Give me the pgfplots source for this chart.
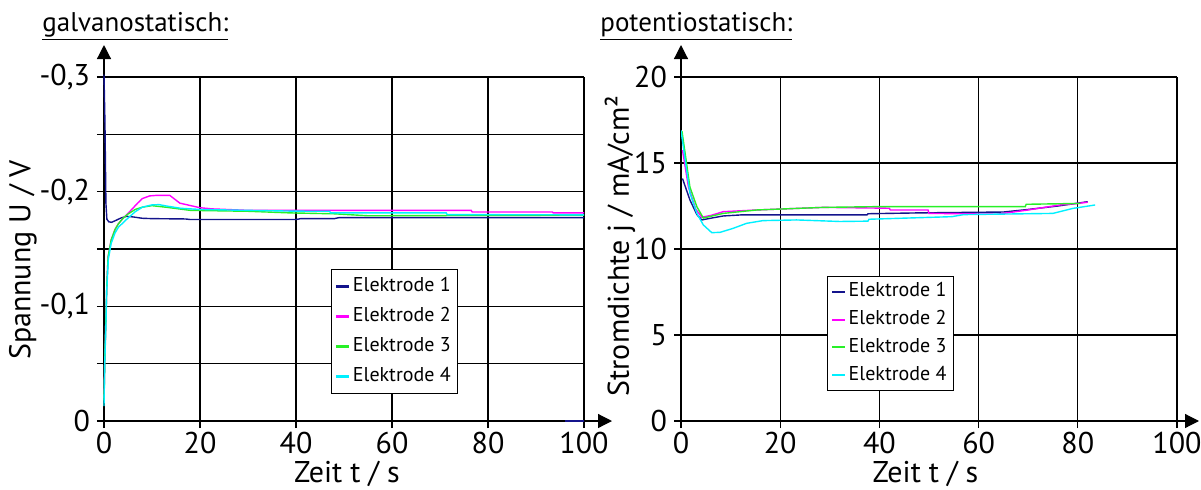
\documentclass[border=0pt]{standalone}
\usepackage{fontspec}
\setmainfont{PT Sans}
\usepackage{pgfplots}
\pgfplotsset{compat=1.18}
\usetikzlibrary{arrows.meta}
\definecolor{elOne}{RGB}{20,20,140}
\definecolor{elTwo}{RGB}{255,0,255}
\definecolor{elThree}{RGB}{40,240,40}
\definecolor{elFour}{RGB}{0,240,255}
\pgfplotsset{
 mystyle/.style={
  scale only axis, height=172pt,
  axis lines=left,
  axis line style={line width=0.6pt},
  x axis line style={-{Triangle[length=7pt,width=7pt]}, shorten >=-14pt},
  grid=major, grid style={black, line width=0.6pt},
  tick style={black, line width=0.6pt},
  tick align=outside, major tick length=3.5pt,
  xmin=0, xmax=100, xtick={0,20,...,100},
  /pgf/number format/assume math mode=true,
  tick label style={font=\fontsize{15}{18}\selectfont},
  xticklabel style={yshift=1.5pt},
  label style={font=\fontsize{15}{18}\selectfont},
  legend style={font=\fontsize{10}{12}\selectfont, draw=black, fill=white, line width=0.5pt,
     inner xsep=1.8pt, inner ysep=4pt, row sep=6pt,
     nodes={inner ysep=0pt, inner xsep=1.5pt, text height=7pt, text depth=2pt}},
  legend cell align=left,
  legend image code/.code={\draw[#1, line width=1.1pt] (0pt,0pt) -- (6.3pt,0pt);},
  every axis plot/.append style={line width=0.7pt},
 }
}
\begin{document}
\begin{tikzpicture}
\useasboundingbox (0,0) rectangle (600.5pt,244.5pt);
\node[anchor=base west, inner sep=0, font=\fontsize{13.5}{16}\selectfont] at (21pt,229pt) {\underline{galvanostatisch:}};
\node[anchor=base west, inner sep=0, font=\fontsize{13.5}{16}\selectfont] at (300pt,229pt) {\underline{potentiostatisch:}};
\begin{axis}[mystyle,
  at={(52pt,34pt)}, anchor=south west, width=240pt,
  y dir=reverse, ymin=-0.3, ymax=0,
  ytick={-0.3,-0.25,-0.2,-0.15,-0.1,-0.05,0},
  yticklabels={{-0,3},{},{-0,2},{},{-0,1},{},{0}},
  y axis line style={{Triangle[length=7pt,width=7pt]}-, shorten <=-16pt},
  xlabel={Zeit t / s}, ylabel={Spannung U / V},
  xlabel style={at={(axis description cs:0.506,-0.155)}, anchor=center},
  ylabel style={at={(axis description cs:-0.169,0.468)}, anchor=center},
  legend style={at={(axis description cs:0.473,0.442)}, anchor=north west},
  clip=false,
]
\addplot[draw=elOne] coordinates {(0,-0.302) (0.2,-0.26) (0.3,-0.225) (0.4,-0.19) (0.6,-0.176) (1.0,-0.1737) (1.6,-0.1733) (2.5,-0.175) (3.5,-0.177) (4.7,-0.1785) (6,-0.178) (8,-0.1768) (10,-0.1765) (17,-0.1762) (18,-0.1757) (40,-0.1757) (41,-0.1765) (48,-0.1765) (49,-0.1774) (100,-0.1774)};
\addlegendentry{Elektrode 1}
\addplot[draw=elTwo] coordinates {(0,-0.02) (0.2,-0.06) (0.4,-0.09) (0.6,-0.12) (0.85,-0.143) (1.5,-0.158) (2.3,-0.167) (3,-0.172) (4,-0.177) (5,-0.181) (6,-0.1855) (7,-0.19) (8,-0.194) (9.5,-0.1963) (11,-0.1968) (13.7,-0.1968) (15.8,-0.19) (20,-0.186) (22.5,-0.185) (30,-0.1837) (76.5,-0.1837) (76.7,-0.1823) (93.4,-0.1823) (93.6,-0.1815) (100,-0.1815)};
\addlegendentry{Elektrode 2}
\addplot[draw=elThree] coordinates {(0,-0.018) (0.2,-0.06) (0.4,-0.09) (0.6,-0.12) (0.85,-0.143) (1.5,-0.158) (2.3,-0.167) (3,-0.172) (4,-0.177) (5,-0.1805) (6.5,-0.1845) (8,-0.1865) (10,-0.1878) (13,-0.1864) (18,-0.1837) (30,-0.1829) (38.7,-0.1815) (48,-0.1807) (55,-0.179) (100,-0.1795)};
\addlegendentry{Elektrode 3}
\addplot[draw=elFour] coordinates {(0,-0.013) (0.15,-0.05) (0.4,-0.083) (0.55,-0.112) (0.9,-0.141) (1.5,-0.155) (2.3,-0.164) (3,-0.169) (4,-0.173) (5,-0.177) (6.5,-0.1825) (8,-0.1865) (10,-0.1885) (11.5,-0.1887) (13,-0.1875) (16,-0.1855) (20,-0.1845) (30,-0.1837) (40,-0.183) (47,-0.1829) (47.2,-0.1815) (71.3,-0.1815) (71.5,-0.18) (100,-0.1798)};
\addlegendentry{Elektrode 4}
\addplot[draw=elOne, line width=1.3pt, forget plot] coordinates {(96,0) (100,0)};
\end{axis}
\begin{axis}[mystyle,
  at={(340.5pt,34pt)}, anchor=south west, width=248pt,
  ymin=0, ymax=20, ytick={0,5,...,20},
  y axis line style={-{Triangle[length=7pt,width=7pt]}, shorten >=-16pt},
  x axis line style={-{Triangle[length=7pt,width=7pt]}, shorten >=-11pt},
  xlabel={Zeit t / s}, ylabel={Stromdichte j / mA/cm²},
  xlabel style={at={(axis description cs:0.493,-0.155)}, anchor=center},
  ylabel style={at={(axis description cs:-0.123,0.509)}, anchor=center},
  legend style={at={(axis description cs:0.294,0.4215)}, anchor=north west, row sep=4.85pt, inner ysep=3.2pt},
]
\addplot[draw=elOne] coordinates {(0.3,14.1) (1.8,12.85) (3.2,12.0) (4.2,11.69) (5.8,11.78) (8.5,11.92) (12,11.98) (37.5,11.98) (37.7,12.05) (48,12.1) (65,12.15) (70,12.3) (76,12.5) (82,12.75)};
\addlegendentry{Elektrode 1}
\addplot[draw=elTwo] coordinates {(0.3,15.75) (1.5,13.6) (3,12.3) (4.2,11.85) (6,11.95) (8.5,12.17) (15.3,12.27) (28.7,12.42) (42,12.37) (42.2,12.27) (49.8,12.27) (50,12.07) (57,12.05) (63.7,12.02) (70,12.27) (76.4,12.56) (80,12.65) (82,12.72)};
\addlegendentry{Elektrode 2}
\addplot[draw=elThree] coordinates {(0.2,16.85) (1.8,13.6) (3.2,12.46) (4.5,11.8) (8.5,12.07) (15.3,12.27) (28.7,12.42) (38.7,12.46) (69.4,12.46) (69.6,12.6) (80.5,12.65)};
\addlegendentry{Elektrode 3}
\addplot[draw=elFour] coordinates {(0,16.9) (1.8,13.25) (3.2,12.07) (4.5,11.4) (6.2,10.95) (7.9,10.97) (10.5,11.2) (13.2,11.49) (16.5,11.65) (23.3,11.69) (32,11.6) (37.7,11.62) (37.9,11.73) (54.6,11.88) (57,12.0) (75,12.07) (79,12.36) (83.5,12.56)};
\addlegendentry{Elektrode 4}
\end{axis}
\end{tikzpicture}
\end{document}
